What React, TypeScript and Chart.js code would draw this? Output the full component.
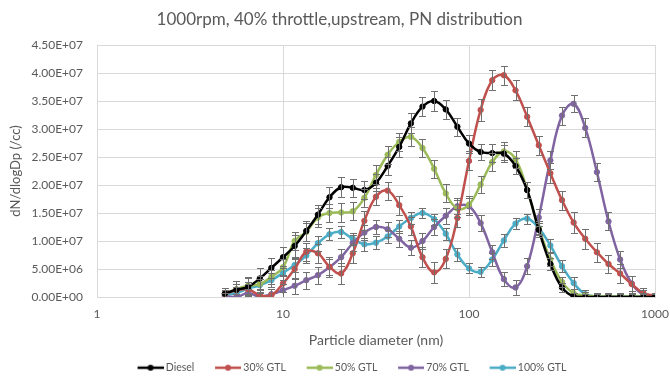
import React, { useEffect, useRef } from 'react';
import { Chart, registerables } from 'chart.js';

Chart.register(...registerables);

// Particle diameters (nm)
const diameters = [4.87, 5.62, 6.49, 7.5, 8.66, 10.0, 11.55, 13.34, 15.4, 17.78, 20.54, 23.71, 27.38, 31.62, 36.52, 42.17, 48.7, 56.23, 64.94, 74.99, 86.6, 100.0, 115.48, 133.35, 153.99, 177.83, 205.35, 237.14, 273.84, 316.23, 365.17, 421.7, 486.97, 562.34, 649.38, 749.89, 865.96, 1000];

const seriesNames = ['Diesel', '30% GTL', '50% GTL', '70% GTL', '100% GTL'];
const seriesColors = ['#000000', '#C0504D', '#9BBB59', '#8064A2', '#4BACC6'];

// values in units of 1E+06 /cc
const diesel = [0.6, 1.3, 1.8, 3.3, 5.2, 7.1, 9.1, 11.8, 14.7, 17.8, 19.6, 19.5, 19.1, 20.4, 23.4, 26.8, 31.0, 34.0, 35.0, 33.5, 30.4, 27.4, 25.9, 25.7, 25.6, 23.4, 19.1, 12.0, 5.9, 1.7, 0.1, 0, 0, 0, 0, 0, 0, 0];
const gtl30 = [0.6, 1.2, 1.4, 0.3, 0.3, 2.4, 5.0, 8.1, 7.8, 5.4, 4.2, 7.8, 13.6, 17.9, 19.0, 16.4, 12.6, 7.1, 4.4, 6.8, 14.1, 24.3, 33.4, 38.7, 39.6, 36.9, 32.2, 27.1, 22.1, 17.3, 13.3, 10.4, 8.0, 5.9, 4.2, 2.3, 0.7, 0.2];
const gtl50 = [0.6, 1.4, 2.0, 2.3, 3.6, 5.3, 10.0, 11.6, 14.2, 15.0, 15.1, 15.3, 17.7, 21.8, 25.4, 27.7, 28.6, 26.6, 22.9, 18.5, 15.8, 16.5, 20.1, 24.1, 26.0, 24.6, 19.1, 12.3, 6.7, 2.7, 0.7, 0.3, 0.1, 0.1, 0.1, 0.1, 0.1, 0.1];
const gtl70 = [0.2, 0.0, 0.7, 0.05, 0.5, 1.2, 2.0, 3.0, 3.9, 5.3, 7.1, 9.6, 11.5, 12.5, 12.1, 10.4, 8.8, 10.0, 12.5, 14.5, 16.2, 16.2, 13.2, 8.0, 3.2, 1.7, 5.5, 14.2, 24.4, 32.4, 34.5, 30.2, 22.3, 13.5, 6.7, 2.4, 0.4, 0.0];
const gtl100 = [0.4, 0.7, 1.5, 2.1, 3.0, 4.3, 5.7, 7.4, 9.6, 11.2, 11.6, 10.4, 9.4, 9.7, 10.8, 12.6, 14.1, 15.0, 13.9, 11.3, 7.6, 5.1, 4.5, 6.7, 10.1, 13.1, 14.0, 12.3, 9.2, 5.5, 2.5, 0.5, 0.1, 0.1, 0.1, 0.1, 0.1, 0.1];

// error bar half-lengths (1E+06 /cc)
const dieselErr = [1.0, 1.5, 1.6, 1.8, 1.8, 1.9, 1.9, 1.8, 1.7, 1.9, 1.8, 1.6, 1.6, 1.5, 1.6, 1.8, 1.8, 1.7, 1.8, 1.7, 1.6, 1.6, 1.5, 1.6, 1.5, 1.4, 1.4, 1.3, 1.1, 0.8, 0.6, 0.6, 0.6, 0.6, 0.6, 0.6, 0.6, 0.6];
const gtl30Err = [1.0, 1.2, 1.0, 1.0, 1.2, 1.5, 1.8, 1.6, 1.7, 1.8, 1.8, 1.7, 1.7, 1.5, 1.6, 1.7, 1.6, 1.8, 1.9, 1.7, 1.6, 1.7, 1.9, 1.8, 1.7, 1.8, 1.7, 1.7, 1.8, 1.7, 1.8, 1.8, 1.7, 1.6, 1.7, 1.5, 0.9, 0.6];
const gtl50Err = [1.0, 1.4, 1.5, 1.4, 1.3, 1.5, 1.6, 1.6, 1.7, 1.6, 1.7, 1.6, 1.6, 1.7, 1.6, 1.6, 1.7, 1.6, 1.6, 1.6, 1.5, 1.5, 1.5, 1.6, 1.6, 1.5, 1.4, 1.3, 1.1, 0.9, 0.7, 0.6, 0.6, 0.6, 0.6, 0.6, 0.6, 0.6];
const gtl70Err = [0.6, 0.6, 0.8, 0.6, 0.9, 1.2, 1.4, 1.5, 1.5, 1.4, 1.5, 1.4, 1.3, 1.2, 1.3, 1.4, 1.3, 1.4, 1.5, 1.4, 1.4, 1.5, 1.4, 1.2, 1.2, 1.4, 1.4, 1.5, 1.6, 1.6, 1.5, 1.7, 1.6, 1.6, 1.5, 1.3, 0.9, 0.6];
const gtl100Err = [0.8, 1.0, 1.2, 1.2, 1.2, 1.3, 1.3, 1.3, 1.3, 1.1, 1.0, 1.1, 1.2, 1.2, 1.1, 1.1, 1.0, 0.9, 1.0, 1.1, 1.1, 0.9, 0.9, 1.1, 1.1, 1.0, 0.9, 1.0, 1.1, 1.1, 1.0, 0.7, 0.5, 0.5, 0.5, 0.5, 0.5, 0.5];

const xTickValues = [1, 10, 100, 1000];
const yMin = 0;
const yMax = 4.5e7;
const yStep = 5e6;
const UNIT = 1e6;

const seriesValues = [diesel, gtl30, gtl50, gtl70, gtl100];
const seriesErrors = [dieselErr, gtl30Err, gtl50Err, gtl70Err, gtl100Err];

const FONT = 'Lato, "Open Sans", "Noto Sans", sans-serif';
const TEXT = '#595959';
const GRID = '#d9d9d9';

function sci(v: number): string {
  if (v === 0) return '0.00E+00';
  const e = Math.floor(Math.log10(Math.abs(v)) + 1e-9);
  const m = v / Math.pow(10, e);
  return m.toFixed(2) + 'E' + (e < 0 ? '-' : '+') + String(Math.abs(e)).padStart(2, '0');
}

function legendIcon(color: string): HTMLCanvasElement {
  const c = document.createElement('canvas');
  c.width = 46;
  c.height = 8;
  const g = c.getContext('2d')!;
  g.strokeStyle = color;
  g.lineWidth = 2.5;
  g.beginPath();
  g.moveTo(20, 4);
  g.lineTo(46, 4);
  g.stroke();
  g.fillStyle = color;
  g.beginPath();
  g.arc(33, 4, 3, 0, Math.PI * 2);
  g.fill();
  return c;
}

const errorBarPlugin = {
  id: 'errorBars',
  afterDatasetsDraw(chart: any) {
    const { ctx, chartArea } = chart;
    const y = chart.scales.y;
    ctx.save();
    ctx.beginPath();
    ctx.rect(chartArea.left, chartArea.top - 1, chartArea.right - chartArea.left, chartArea.bottom - chartArea.top + 1);
    ctx.clip();
    ctx.strokeStyle = '#707070';
    ctx.lineWidth = 1;
    chart.data.datasets.forEach((ds: any, di: number) => {
      const meta = chart.getDatasetMeta(di);
      const errs: number[] = ds.errors;
      meta.data.forEach((pt: any, i: number) => {
        const v = ds.data[i].y;
        const e = errs[i] * UNIT;
        const x = Math.round(pt.x) + 0.5;
        const yt = Math.round(y.getPixelForValue(v + e)) + 0.5;
        const yb = Math.round(y.getPixelForValue(v - e)) + 0.5;
        ctx.beginPath();
        ctx.moveTo(x, yt);
        ctx.lineTo(x, yb);
        ctx.moveTo(x - 3.5, yt);
        ctx.lineTo(x + 3.5, yt);
        ctx.moveTo(x - 3.5, yb);
        ctx.lineTo(x + 3.5, yb);
        ctx.stroke();
      });
    });
    ctx.restore();
  },
};

const boxShiftPlugin = {
  id: 'boxShift',
  afterLayout(chart: any) {
    const lg = chart.legend;
    if (lg) {
      lg.left += 16;
      lg.right += 16;
    }
    const tb = chart.titleBlock;
    if (tb) {
      tb.left += 12;
      tb.right += 12;
    }
  },
};

export default function App() {
  const ref = useRef<HTMLCanvasElement | null>(null);

  useEffect(() => {
    document.body.style.margin = '0';
    if (!ref.current) return;
    const icons = seriesColors.map(legendIcon);
    const datasets = seriesNames.map((name, si) => ({
      label: name,
      data: diameters.map((d, i) => ({ x: d, y: seriesValues[si][i] * UNIT })),
      errors: seriesErrors[si],
      borderColor: seriesColors[si],
      backgroundColor: seriesColors[si],
      pointBackgroundColor: seriesColors[si],
      pointBorderColor: seriesColors[si],
      pointRadius: 2.7,
      pointBorderWidth: 1,
      borderWidth: 2.5,
      tension: 0.4,
      fill: false,
    }));

    const chart = new Chart(ref.current, {
      type: 'line',
      data: { datasets } as any,
      plugins: [errorBarPlugin, boxShiftPlugin],
      options: {
        animation: false,
        responsive: false,
        devicePixelRatio: 1,
        layout: { padding: { left: 0, right: 15, top: 0, bottom: -6 } },
        plugins: {
          title: {
            display: true,
            text: '1000rpm, 40% throttle,upstream, PN distribution',
            color: TEXT,
            font: { family: FONT, size: 17, weight: 'normal' },
            padding: { top: 9, bottom: 15.6 },
          },
          legend: {
            display: true,
            position: 'bottom',
            labels: {
              usePointStyle: true,
              pointStyleWidth: 40,
              color: TEXT,
              font: { family: FONT, size: 10.5 },
              padding: 3.75,
              generateLabels: (c: any) => {
                const base = (Chart.defaults.plugins.legend.labels as any).generateLabels(c);
                return base.map((l: any, i: number) => ({ ...l, pointStyle: icons[i] }));
              },
            },
          },
          tooltip: { enabled: false },
        },
        scales: {
          x: {
            type: 'logarithmic',
            min: 1,
            max: 1000,
            afterBuildTicks: (scale: any) => {
              scale.ticks = xTickValues.map((v) => ({ value: v }));
            },
            afterFit: (scale: any) => {
              scale.height = 61.75;
              scale.paddingLeft = 0;
              scale.paddingRight = 0;
            },
            ticks: {
              color: TEXT,
              font: { family: FONT, size: 12 },
              padding: 10,
              autoSkip: false,
              maxRotation: 0,
              callback: (v: any) => String(v),
            },
            grid: { color: GRID, drawTicks: false, lineWidth: 1 },
            border: { display: true, color: GRID },
            title: {
              display: true,
              text: 'Particle diameter (nm)',
              color: TEXT,
              font: { family: FONT, size: 14 },
              padding: { top: 0, bottom: 10.3 },
            },
          },
          y: {
            type: 'linear',
            min: yMin,
            max: yMax,
            afterFit: (scale: any) => {
              scale.width = 97;
            },
            ticks: {
              stepSize: yStep,
              color: TEXT,
              font: { family: FONT, size: 12 },
              padding: 14,
              callback: (v: any) => sci(Number(v)),
            },
            grid: { color: GRID, drawTicks: false, lineWidth: 1 },
            border: { display: false },
            title: {
              display: true,
              text: 'dN/dlogDp (/cc)',
              color: TEXT,
              font: { family: FONT, size: 13 },
              padding: { top: 8, bottom: 0 },
            },
          },
        },
      } as any,
    });
    return () => chart.destroy();
  }, []);

  return (
    <div style={{ width: 670, height: 377, background: '#ffffff', overflow: 'hidden' }}>
      <canvas ref={ref} width={670} height={377} style={{ display: 'block' }} />
    </div>
  );
}
